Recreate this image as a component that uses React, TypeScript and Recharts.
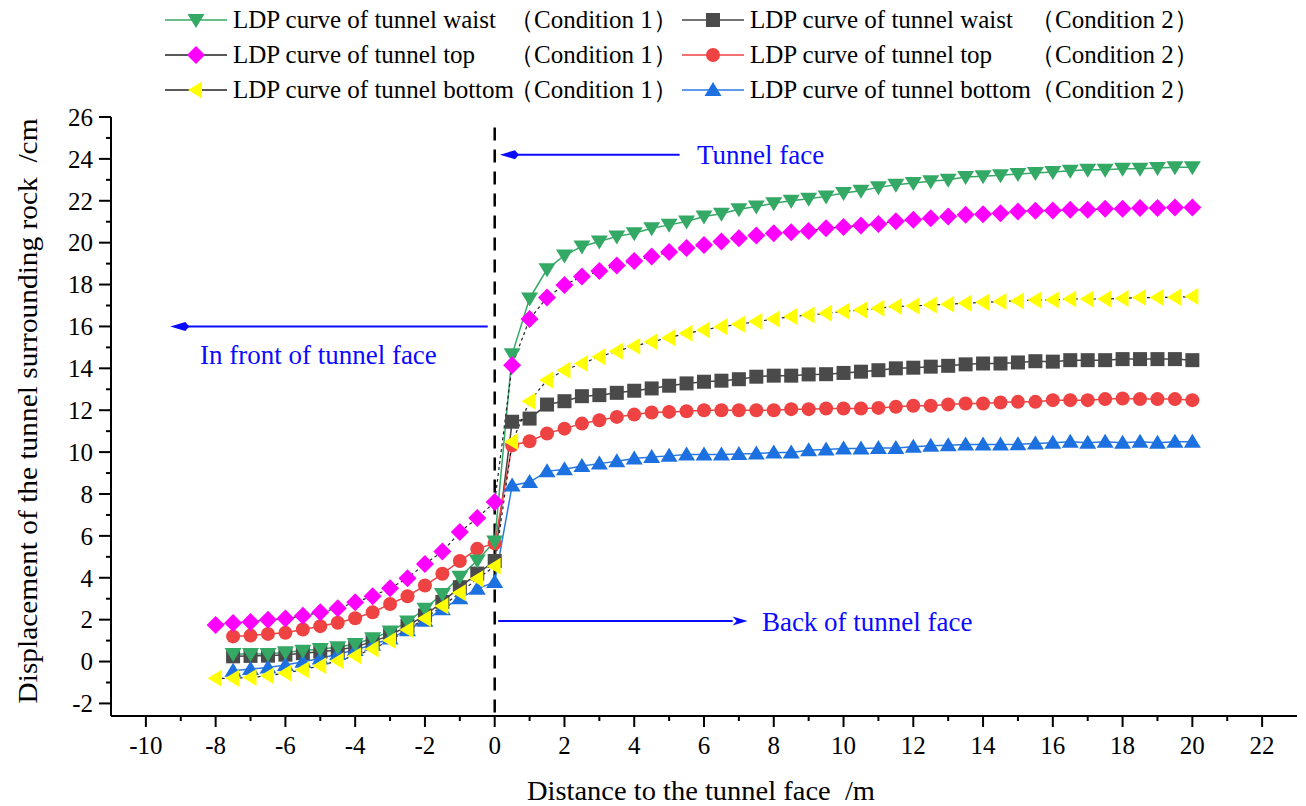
import React from 'react'
import { LineChart, Line, XAxis, YAxis, ReferenceLine, ReferenceDot, Label } from 'recharts'

// distance to the tunnel face (m)
const DIST = [
  -8, -7.5, -7, -6.5, -6, -5.5, -5, -4.5, -4, -3.5, -3, -2.5, -2, -1.5, -1, -0.5, 0,
  0.5, 1, 1.5, 2, 2.5, 3, 3.5, 4, 4.5, 5, 5.5, 6, 6.5, 7, 7.5, 8, 8.5, 9, 9.5, 10,
  10.5, 11, 11.5, 12, 12.5, 13, 13.5, 14, 14.5, 15, 15.5, 16, 16.5, 17, 17.5, 18, 18.5, 19, 19.5, 20,
]

// displacement (cm)
const WAIST_C1 = [
  null, 0.36, 0.36, 0.36, 0.44, 0.52, 0.6, 0.68, 0.84, 1.11, 1.43, 1.91, 2.52, 3.23, 4.05, 4.82, 5.73,
  14.67, 17.34, 18.73, 19.39, 19.82, 20.06, 20.3, 20.45, 20.69, 20.85, 21.01, 21.25, 21.38, 21.6, 21.73, 21.88, 22.0, 22.1, 22.21, 22.37,
  22.48, 22.64, 22.77, 22.85, 22.93, 23.0, 23.13, 23.17, 23.22, 23.28, 23.33, 23.37, 23.43, 23.48, 23.48, 23.53, 23.53, 23.56, 23.6, 23.6,
]
const WAIST_C2 = [
  null, 0.25, 0.27, 0.28, 0.33, 0.4, 0.47, 0.55, 0.7, 0.95, 1.25, 1.7, 2.2, 2.85, 3.55, 4.2, 4.8,
  11.45, 11.6, 12.27, 12.43, 12.67, 12.72, 12.83, 12.93, 13.04, 13.17, 13.28, 13.36, 13.41, 13.48, 13.6, 13.65, 13.65, 13.71, 13.72, 13.78,
  13.84, 13.91, 14.0, 14.03, 14.08, 14.12, 14.19, 14.23, 14.23, 14.28, 14.34, 14.32, 14.39, 14.39, 14.39, 14.44, 14.44, 14.44, 14.44, 14.39,
]
const TOP_C1 = [
  1.75, 1.84, 1.89, 1.99, 2.05, 2.19, 2.35, 2.54, 2.83, 3.12, 3.5, 3.98, 4.66, 5.25, 6.18, 6.85, 7.62,
  14.15, 16.35, 17.38, 17.98, 18.38, 18.65, 18.91, 19.13, 19.34, 19.55, 19.74, 19.89, 20.06, 20.21, 20.34, 20.45, 20.5, 20.56, 20.69, 20.75,
  20.82, 20.89, 21.02, 21.09, 21.17, 21.25, 21.33, 21.36, 21.41, 21.49, 21.52, 21.54, 21.57, 21.57, 21.62, 21.62, 21.65, 21.65, 21.68, 21.68,
]
const TOP_C2 = [
  null, 1.2, 1.24, 1.32, 1.37, 1.53, 1.69, 1.85, 2.07, 2.35, 2.75, 3.12, 3.63, 4.19, 4.8, 5.38, 5.65,
  10.33, 10.52, 10.89, 11.12, 11.36, 11.52, 11.68, 11.79, 11.89, 11.92, 11.95, 12.0, 12.0, 12.0, 12.0, 12.0, 12.05, 12.05, 12.08, 12.08,
  12.08, 12.11, 12.16, 12.21, 12.21, 12.27, 12.32, 12.32, 12.37, 12.4, 12.4, 12.48, 12.48, 12.48, 12.53, 12.56, 12.53, 12.53, 12.53, 12.48,
]
const BOTTOM_C1 = [
  -0.8, -0.8, -0.76, -0.68, -0.55, -0.39, -0.2, 0.04, 0.28, 0.6, 1.0, 1.52, 2.06, 2.65, 3.28, 3.95, 4.55,
  10.49, 12.43, 13.44, 13.91, 14.23, 14.55, 14.82, 15.06, 15.27, 15.46, 15.67, 15.83, 15.99, 16.1, 16.23, 16.35, 16.47, 16.55, 16.63, 16.72,
  16.79, 16.87, 16.95, 16.98, 17.02, 17.06, 17.11, 17.15, 17.19, 17.22, 17.26, 17.26, 17.31, 17.31, 17.31, 17.34, 17.38, 17.38, 17.39, 17.43,
]
const BOTTOM_C2 = [
  null, -0.44, -0.36, -0.28, -0.17, -0.01, 0.15, 0.36, 0.55, 0.8, 1.1, 1.5, 1.95, 2.5, 3.02, 3.47, 3.8,
  8.41, 8.57, 9.08, 9.18, 9.34, 9.45, 9.56, 9.69, 9.77, 9.82, 9.88, 9.88, 9.88, 9.91, 9.93, 9.98, 9.98, 10.09, 10.13, 10.17,
  10.17, 10.2, 10.2, 10.25, 10.3, 10.33, 10.36, 10.36, 10.36, 10.37, 10.41, 10.45, 10.49, 10.45, 10.49, 10.45, 10.49, 10.45, 10.49, 10.49,
]

const X_TICKS = [-10, -9, -8, -7, -6, -5, -4, -3, -2, -1, 0, 1, 2, 3, 4, 5, 6, 7, 8, 9, 10, 11, 12, 13, 14, 15, 16, 17, 18, 19, 20, 21, 22]
const Y_TICKS = [-2, -1, 0, 1, 2, 3, 4, 5, 6, 7, 8, 9, 10, 11, 12, 13, 14, 15, 16, 17, 18, 19, 20, 21, 22, 23, 24, 25, 26]

const FONT = '"Liberation Serif", "Times New Roman", serif'
const ANNO_BLUE = '#0a0aff'

// draw order: condition 2 first, condition 1 on top
const SERIES = [
  { key: 'waist2', name: 'LDP curve of tunnel waist', cond: '（Condition 2）', values: WAIST_C2, fill: '#4a4a4a', stroke: '#444', dash: undefined, shape: 'square' },
  { key: 'top2', name: 'LDP curve of tunnel top', cond: '（Condition 2）', values: TOP_C2, fill: '#ef4242', stroke: '#ef4242', dash: undefined, shape: 'circle' },
  { key: 'bottom2', name: 'LDP curve of tunnel bottom', cond: '（Condition 2）', values: BOTTOM_C2, fill: '#1c70e0', stroke: '#2a7ae2', dash: undefined, shape: 'up' },
  { key: 'waist1', name: 'LDP curve of tunnel waist', cond: '（Condition 1）', values: WAIST_C1, fill: '#34a865', stroke: '#34a865', dash: undefined, shape: 'down' },
  { key: 'top1', name: 'LDP curve of tunnel top', cond: '（Condition 1）', values: TOP_C1, fill: '#ff00ff', stroke: '#222', dash: '3 3', shape: 'diamond' },
  { key: 'bottom1', name: 'LDP curve of tunnel bottom', cond: '（Condition 1）', values: BOTTOM_C1, fill: '#ffff00', stroke: '#222', dash: '3 3', shape: 'left' },
]

const LEGEND_ROWS = [
  ['waist1', 'waist2'],
  ['top1', 'top2'],
  ['bottom1', 'bottom2'],
]

const ANNOTATIONS = [
  { text: 'Tunnel face', y: 24.2, from: 5.3, to: 0.15, textX: 5.8, textY: 24.2 },
  { text: 'In front of tunnel face', y: 16.0, from: -0.2, to: -9.3, textX: -8.45, textY: 14.64 },
  { text: 'Back of tunnel face', y: 1.93, from: 0.1, to: 7.25, textX: 7.66, textY: 1.9 },
]

const data = DIST.map((d, i) => {
  const row: any = { dist: d }
  SERIES.forEach(s => { row[s.key] = s.values[i] })
  return row
})

function Marker({ shape, cx, cy, fill }: { shape: string; cx: number; cy: number; fill: string }) {
  if (shape === 'square') return <rect x={cx - 7} y={cy - 7} width={14} height={14} fill={fill} />
  if (shape === 'circle') return <circle cx={cx} cy={cy} r={7} fill={fill} />
  let pts = ''
  if (shape === 'down') pts = `${cx - 8.5},${cy - 6} ${cx + 8.5},${cy - 6} ${cx},${cy + 8}`
  if (shape === 'up') pts = `${cx - 8.5},${cy + 6} ${cx + 8.5},${cy + 6} ${cx},${cy - 8}`
  if (shape === 'left') pts = `${cx + 6},${cy - 8.5} ${cx + 6},${cy + 8.5} ${cx - 8},${cy}`
  if (shape === 'diamond') pts = `${cx},${cy - 9} ${cx + 9},${cy} ${cx},${cy + 9} ${cx - 9},${cy}`
  return <polygon points={pts} fill={fill} />
}

function XTick({ x, y, payload }: any) {
  const v = payload.value
  const major = v % 2 === 0
  return (
    <g>
      <line x1={x} x2={x} y1={y} y2={y + (major ? 11 : 5)} stroke="#000" strokeWidth={2} />
      {major && (
        <text x={x} y={y + 38} textAnchor="middle" fontSize={25} fontFamily={FONT} fill="#000">{v}</text>
      )}
    </g>
  )
}

function YTick({ x, y, payload }: any) {
  const v = payload.value
  const major = v % 2 === 0
  return (
    <g>
      <line x1={x} x2={x - (major ? 12 : 5)} y1={y} y2={y} stroke="#000" strokeWidth={2} />
      {major && (
        <text x={x - 18} y={y} dy="0.35em" textAnchor="end" fontSize={25} fontFamily={FONT} fill="#000">{v}</text>
      )}
    </g>
  )
}

function Arrow({ x1, y1, x2, y2 }: any) {
  const ang = Math.atan2(y2 - y1, x2 - x1)
  const len = 15
  const w = 4.5
  const bx = x2 - len * Math.cos(ang)
  const by = y2 - len * Math.sin(ang)
  const nx = -Math.sin(ang) * w
  const ny = Math.cos(ang) * w
  return (
    <g>
      <line x1={x1} y1={y1} x2={bx} y2={by} stroke={ANNO_BLUE} strokeWidth={2} />
      <polygon points={`${x2},${y2} ${bx + nx},${by + ny} ${bx + 4},${by} ${bx - nx},${by - ny}`} fill={ANNO_BLUE} />
    </g>
  )
}

function LegendItem({ s, left, top }: any) {
  const condLeft = left + (s.cond.includes('1') ? 344 : 348)
  const txt = { position: 'absolute' as const, top: top - 16, fontSize: 25, lineHeight: '32px', whiteSpace: 'pre' as const }
  return (
    <>
      <svg style={{ position: 'absolute', left, top: top - 10 }} width={64} height={20}>
        <line x1={0} x2={62} y1={10} y2={10} stroke={s.dash ? '#222' : s.stroke} strokeWidth={1.5} />
        <Marker shape={s.shape} cx={31} cy={10} fill={s.fill} />
      </svg>
      <span style={{ ...txt, left: left + 68 }}>{s.name}</span>
      <span style={{ ...txt, left: condLeft }}>{s.cond}</span>
    </>
  )
}

export default function App() {
  const byKey: any = {}
  SERIES.forEach(s => { byKey[s.key] = s })

  return (
    <div style={{ position: 'absolute', left: 0, top: 0, width: 1306, height: 806, background: '#fff', fontFamily: FONT, color: '#000' }}>
      {LEGEND_ROWS.map((row, r) => (
        <React.Fragment key={r}>
          <LegendItem s={byKey[row[0]]} left={165} top={20 + r * 35} />
          <LegendItem s={byKey[row[1]]} left={682} top={20 + r * 35} />
        </React.Fragment>
      ))}
      <LineChart width={1306} height={806} data={data} margin={{ top: 117, right: 9, bottom: 0, left: 0 }} style={{ position: 'absolute', left: 0, top: 0 }}>
        <XAxis
          dataKey="dist"
          type="number"
          domain={[-11, 23]}
          ticks={X_TICKS}
          interval={0}
          height={90}
          tickSize={0}
          tickMargin={0}
          tickLine={false}
          tick={<XTick />}
          axisLine={{ stroke: '#000', strokeWidth: 2 }}
        >
          <Label
            content={() => (
              <text x={701} y={800} textAnchor="middle" fontSize={27} textLength={348} lengthAdjust="spacingAndGlyphs" fontFamily={FONT} fill="#000" style={{ whiteSpace: 'pre' }}>
                Distance to the tunnel face  /m
              </text>
            )}
          />
        </XAxis>
        <YAxis
          type="number"
          domain={[-2.6, 26]}
          ticks={Y_TICKS}
          interval={0}
          width={111}
          tickSize={0}
          tickMargin={0}
          tickLine={false}
          tick={<YTick />}
          axisLine={{ stroke: '#000', strokeWidth: 2 }}
          allowDataOverflow
        >
          <Label
            content={() => (
              <text transform="translate(28,411) rotate(-90)" textAnchor="middle" dominantBaseline="central" fontSize={27} textLength={585} lengthAdjust="spacingAndGlyphs" fontFamily={FONT} fill="#000" style={{ whiteSpace: 'pre' }}>
                Displacement of the tunnel surrounding rock  /cm
              </text>
            )}
          />
        </YAxis>

        <ReferenceLine segment={[{ x: 0, y: 25.5 }, { x: 0, y: -2.6 }]} stroke="#000" strokeWidth={2.5} strokeDasharray="13 9" />

        {SERIES.map(s => (
          <Line
            key={s.key}
            dataKey={s.key}
            type="linear"
            stroke={s.stroke}
            strokeWidth={s.dash ? 1.2 : 1.5}
            strokeDasharray={s.dash}
            isAnimationActive={false}
            activeDot={false}
            dot={(p: any) =>
              p.cy == null || p.value == null ? (
                <g key={`${s.key}-${p.index}`} />
              ) : (
                <Marker key={`${s.key}-${p.index}`} shape={s.shape} cx={p.cx} cy={p.cy} fill={s.fill} />
              )
            }
          />
        ))}

        {ANNOTATIONS.map(a => (
          <ReferenceLine key={a.text} segment={[{ x: a.from, y: a.y }, { x: a.to, y: a.y }]} shape={(p: any) => <Arrow {...p} />} />
        ))}
        {ANNOTATIONS.map(a => (
          <ReferenceDot
            key={a.text + '-t'}
            x={a.textX}
            y={a.textY}
            r={0}
            shape={(p: any) => (
              <text x={p.cx} y={p.cy} dy="0.35em" fontSize={27} fontFamily={FONT} fill={ANNO_BLUE}>{a.text}</text>
            )}
          />
        ))}
      </LineChart>
    </div>
  )
}
